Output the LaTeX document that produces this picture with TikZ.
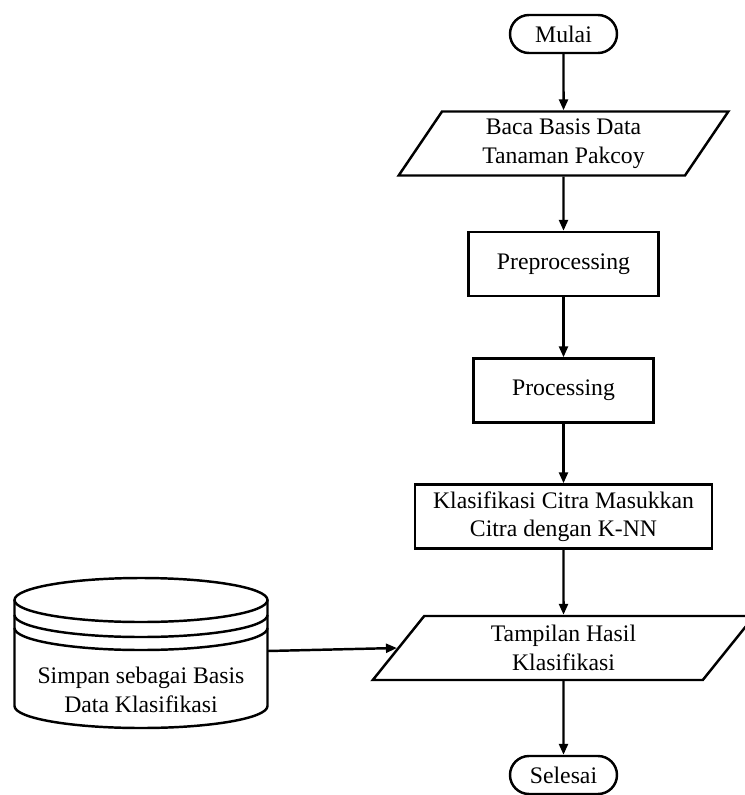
\documentclass[tikz,border=0pt]{standalone}
\usepackage{fontspec}
\setmainfont{Liberation Serif}
\usetikzlibrary{shapes.geometric,arrows.meta}
\begin{document}
\begin{tikzpicture}[line width=1.4pt, >={Triangle[length=0.22cm,width=0.18cm]},
    font=\fontsize{13.5}{16.2}\selectfont,
    terminal/.style={draw, rounded corners=0.38cm, minimum width=2.14cm, minimum height=0.76cm},
    proses/.style={draw, minimum height=1.28cm, align=center},
    io/.style={draw, trapezium, trapezium left angle=63, trapezium right angle=117,
        trapezium stretches, minimum height=1.28cm, align=center}]
    \useasboundingbox (0,0) rectangle (14.88,-15.9);
    \node[terminal] (mulai) at (11.27,-0.68) {Mulai};
    \node[io, minimum width=6.6cm] (baca) at (11.27,-2.87) {Baca Basis Data\\Tanaman Pakcoy};
    \node[proses, minimum width=3.8cm] (prep) at (11.27,-5.28) {Preprocessing};
    \node[proses, minimum width=3.6cm] (proc) at (11.27,-7.81) {Processing};
    \node[proses, minimum width=5.94cm] (klas) at (11.27,-10.33) {Klasifikasi Citra Masukkan\\Citra dengan K-NN};
    \node[io, minimum width=7.64cm] (tampil) at (11.27,-12.96) {Tampilan Hasil\\Klasifikasi};
    \node[terminal] (selesai) at (11.27,-15.5) {Selesai};
    % basis data
    \draw (2.82,-12) ellipse (2.53 and 0.44);
    \draw (0.29,-12) -- (0.29,-14.12) arc[start angle=180, end angle=360, x radius=2.53, y radius=0.44] -- (5.35,-12);
    \draw (0.29,-12.3) arc[start angle=180, end angle=360, x radius=2.53, y radius=0.44];
    \draw (0.29,-12.56) arc[start angle=180, end angle=360, x radius=2.53, y radius=0.44];
    \node[align=center] (simpan) at (2.82,-13.8) {Simpan sebagai Basis\\Data Klasifikasi};
    \coordinate (simpanR) at (5.35,-13.02);
    \draw[->] (mulai) -- (baca);
    \draw[->] (baca) -- (prep);
    \draw[->] (prep) -- (proc);
    \draw[->] (proc) -- (klas);
    \draw[->] (klas) -- (tampil);
    \draw[->] (tampil) -- (selesai);
    \draw[->] (simpanR) -- (tampil.west);
\end{tikzpicture}
\end{document}
